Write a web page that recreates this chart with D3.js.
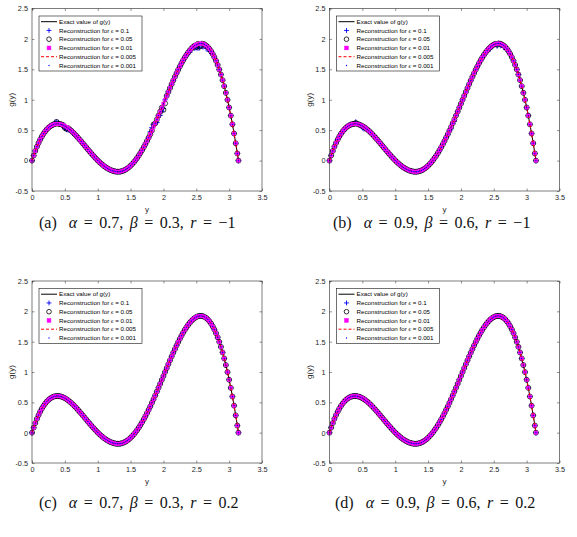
<!DOCTYPE html>
<html><head><meta charset="utf-8">
<script src="https://cdn.jsdelivr.net/npm/d3@7"></script>
<style>body{margin:0;background:#fff}svg{display:block}</style></head>
<body><svg id="chart" width="577" height="537"></svg>
<script>
// ---------------- data ----------------
const yGrid = [0,0.025,0.05,0.075,0.1,0.125,0.15,0.175,0.2,0.225,0.25,0.275,0.3,0.325,0.35,0.375,0.4,0.425,0.45,0.475,
  0.5,0.525,0.55,0.575,0.6,0.625,0.65,0.675,0.7,0.725,0.75,0.775,0.8,0.825,0.85,0.875,0.9,0.925,0.95,0.975,
  1.0,1.025,1.05,1.075,1.1,1.125,1.15,1.175,1.2,1.225,1.25,1.275,1.3,1.325,1.35,1.375,1.4,1.425,1.45,1.475,
  1.5,1.525,1.55,1.575,1.6,1.625,1.65,1.675,1.7,1.725,1.75,1.775,1.8,1.825,1.85,1.875,1.9,1.925,1.95,1.975,
  2.0,2.025,2.05,2.075,2.1,2.125,2.15,2.175,2.2,2.225,2.25,2.275,2.3,2.325,2.35,2.375,2.4,2.425,2.45,2.475,
  2.5,2.525,2.55,2.575,2.6,2.625,2.65,2.675,2.7,2.725,2.75,2.775,2.8,2.825,2.85,2.875,2.9,2.925,2.95,2.975,
  3.0,3.025,3.05,3.075,3.1,3.125,3.1416];
const gExact = [0,0.083,0.158,0.228,0.290,0.346,0.397,0.441,0.479,0.512,0.539,0.562,0.579,0.592,0.600,0.604,0.604,0.600,0.593,0.582,
  0.569,0.552,0.533,0.511,0.488,0.462,0.435,0.406,0.376,0.345,0.314,0.282,0.249,0.217,0.184,0.152,0.121,0.090,0.060,0.031,
  0.003,-0.024,-0.048,-0.071,-0.093,-0.112,-0.129,-0.144,-0.157,-0.167,-0.175,-0.181,-0.183,-0.183,-0.179,-0.172,-0.161,-0.147,-0.130,-0.109,
  -0.085,-0.057,-0.027,0.007,0.044,0.083,0.126,0.171,0.219,0.269,0.322,0.377,0.433,0.492,0.552,0.613,0.676,0.740,0.804,0.869,
  0.934,1.000,1.064,1.129,1.193,1.256,1.318,1.378,1.437,1.493,1.547,1.599,1.648,1.694,1.736,1.775,1.810,1.841,1.868,1.889,
  1.906,1.918,1.924,1.925,1.920,1.908,1.891,1.867,1.835,1.798,1.752,1.700,1.640,1.572,1.497,1.414,1.322,1.223,1.114,0.998,
  0.872,0.739,0.596,0.445,0.285,0.117,0];

const epsLabels = ["0.1","0.05","0.01","0.005","0.001"];
const xTicks = [0,0.5,1,1.5,2,2.5,3,3.5];
const xTickLabels = ["0","0.5","1","1.5","2","2.5","3","3.5"];
const yTicks = [-0.5,0,0.5,1,1.5,2,2.5];
const yTickLabels = ["-0.5","0","0.5","1","1.5","2","2.5"];

const panelIds = ["a","b","c","d"];
const alphaVals = ["0.7","0.9","0.7","0.9"];
const betaVals = ["0.3","0.6","0.3","0.6"];
const rVals = ["\u22121","\u22121","0.2","0.2"];

// deviations of the noisy reconstructions from g, as [y, delta]
const devA01 = [[0.35,0.03],[0.375,0.03],[0.4,0.02],[0.5,-0.04],[0.525,-0.04],[0.55,-0.03],[0.65,-0.02],[1.8,0.04],[1.825,0.05],[1.85,0.04],
  [1.9,-0.05],[1.95,-0.06],[1.975,-0.06],[2.0,-0.08],[2.4,-0.03],[2.475,-0.04],[2.5,-0.05],[2.525,-0.07],[2.55,-0.07],[2.6,-0.05],[2.65,-0.05],[2.7,-0.04]];
const devA005 = [[0.375,0.03],[0.5,-0.03],[0.525,-0.03],[1.85,0.04],[2.0,-0.10],[2.025,-0.06],[2.5,-0.04],[2.55,-0.05],[2.575,-0.04]];
const devB01 = [[0.4,0.03],[0.5,-0.03],[0.525,-0.03],[1.85,-0.03],[1.9,-0.03],[2.45,-0.03],[2.55,-0.04],[2.6,-0.03],[2.65,-0.03]];
const devB005 = [[0.4,0.015],[2.55,-0.02]];
const devC01 = [];
const devC005 = [];
const devD01 = [];
const devD005 = [];

// ---------------- layout ----------------
const layout = [
  {l:32,   r:262,   t:8.5,  b:191, capX:39,  capY:227.5},
  {l:329.5,r:559.5, t:8.5,  b:191, capX:333, capY:227.5},
  {l:32,   r:262,   t:281,  b:463, capX:39,  capY:507.5},
  {l:329.5,r:559.5, t:281,  b:463, capX:335, capY:507.5}
];
const devs = [[devA01,devA005],[devB01,devB005],[devC01,devC005],[devD01,devD005]];

const svg = d3.select("#chart");
const AX = "#262626";
const SANS = "'Liberation Sans',Arial,sans-serif";

function withDev(dev){
  const m = new Map(dev.map(([yy,dv]) => [d3.minIndex(yGrid, v => Math.abs(v-yy)), dv]));
  return gExact.map((v,i)=> v + (m.get(i)||0));
}

const plusPath = (cx,cy,a) => `M${cx-a},${cy}H${cx+a}M${cx},${cy-a}V${cy+a}`;

panelIds.forEach((pid, p) => {
  const L = layout[p];
  const x = d3.scaleLinear().domain([0,3.5]).range([L.l, L.r]);
  const y = d3.scaleLinear().domain([-0.5,2.5]).range([L.b, L.t]);
  const g = svg.append("g");

  const series = [withDev(devs[p][0]), withDev(devs[p][1]), gExact, gExact, gExact];
  const pts = s => s.map((v,i)=>[yGrid[i], v]);
  const line = d3.line().x(d=>x(d[0])).y(d=>y(d[1]));

  // exact
  g.append("path").attr("d", line(pts(gExact))).attr("fill","none")
    .attr("stroke","#000").attr("stroke-width",1);
  // eps 0.1 : blue +
  g.append("g").selectAll("path").data(pts(series[0])).join("path")
    .attr("d", d=>plusPath(x(d[0]),y(d[1]),2.7))
    .attr("stroke","#0000ff").attr("stroke-width",0.9);
  // eps 0.05 : black o
  g.append("g").selectAll("circle").data(pts(series[1])).join("circle")
    .attr("cx",d=>x(d[0])).attr("cy",d=>y(d[1])).attr("r",2.5)
    .attr("fill","none").attr("stroke","#000").attr("stroke-width",0.75);
  // eps 0.01 : magenta squares
  g.append("g").selectAll("rect").data(pts(series[2])).join("rect")
    .attr("x",d=>x(d[0])-1.6).attr("y",d=>y(d[1])-1.6).attr("width",3.2).attr("height",3.2)
    .attr("fill","#ff00ff").attr("stroke","#ff00ff").attr("stroke-width",0.5);
  // eps 0.005 : red dashed
  g.append("path").attr("d", line(pts(series[3]))).attr("fill","none")
    .attr("stroke","#ff0000").attr("stroke-width",1).attr("stroke-dasharray","3,2");
  // eps 0.001 : blue dots
  g.append("g").selectAll("circle").data(pts(series[4])).join("circle")
    .attr("cx",d=>x(d[0])).attr("cy",d=>y(d[1])).attr("r",0.7).attr("fill","#0000ff");

  // axes
  const fx = (d,i)=>xTickLabels[i], fy=(d,i)=>yTickLabels[i];
  const style = sel => { sel.select(".domain").remove();
    sel.selectAll("line").attr("stroke",AX).attr("stroke-width",0.5);
    sel.selectAll("text").attr("fill",AX).style("font-family",SANS).style("font-size","7.3px"); };
  svg.append("g").attr("transform",`translate(0,${L.b})`)
    .call(d3.axisBottom(x).tickValues(xTicks).tickFormat(fx).tickSize(-2.5).tickPadding(4)).call(style);
  svg.append("g").attr("transform",`translate(0,${L.t})`)
    .call(d3.axisTop(x).tickValues(xTicks).tickFormat("").tickSize(-2.5)).call(style);
  svg.append("g").attr("transform",`translate(${L.l},0)`)
    .call(d3.axisLeft(y).tickValues(yTicks).tickFormat(fy).tickSize(-2.5).tickPadding(4)).call(style);
  svg.append("g").attr("transform",`translate(${L.r},0)`)
    .call(d3.axisRight(y).tickValues(yTicks).tickFormat("").tickSize(-2.5)).call(style);
  svg.append("rect").attr("x",L.l).attr("y",L.t).attr("width",L.r-L.l).attr("height",L.b-L.t)
    .attr("fill","none").attr("stroke",AX).attr("stroke-width",0.6);

  // axis labels
  svg.append("text").attr("x",(L.l+L.r)/2).attr("y",L.b+20.5).attr("text-anchor","middle")
    .style("font-family",SANS).style("font-size","8px").attr("fill",AX).text("y");
  svg.append("text").attr("transform",`translate(${L.l-18},${(L.t+L.b)/2}) rotate(-90)`).attr("text-anchor","middle")
    .style("font-family",SANS).style("font-size","8px").attr("fill",AX).text("g(y)");

  // legend
  const lg = svg.append("g").attr("transform",`translate(${L.l+7},${L.t+7.5})`);
  lg.append("rect").attr("width",103).attr("height",55).attr("fill","#fff").attr("stroke","#111").attr("stroke-width",0.6);
  const rowY = i => 5.7 + i*8.75;
  const labels = ["Exact value of g(y)"].concat(epsLabels.map(e=>"Reconstruction for "+e));
  labels.forEach((lab,i)=>{
    const cy = rowY(i), cx = 10;
    if(i===0) lg.append("line").attr("x1",2).attr("x2",18).attr("y1",cy).attr("y2",cy).attr("stroke","#000").attr("stroke-width",1);
    if(i===1) lg.append("path").attr("d",plusPath(cx,cy,2.4)).attr("stroke","#0000ff").attr("stroke-width",0.9);
    if(i===2) lg.append("circle").attr("cx",cx).attr("cy",cy).attr("r",2.3).attr("fill","none").attr("stroke","#000").attr("stroke-width",0.8);
    if(i===3) lg.append("rect").attr("x",cx-1.9).attr("y",cy-1.9).attr("width",3.8).attr("height",3.8).attr("fill","#ff00ff").attr("stroke","#ff00ff").attr("stroke-width",0.5);
    if(i===4) lg.append("line").attr("x1",2).attr("x2",18).attr("y1",cy).attr("y2",cy).attr("stroke","#ff0000").attr("stroke-width",1).attr("stroke-dasharray","3,2");
    if(i===5) lg.append("circle").attr("cx",cx).attr("cy",cy).attr("r",0.7).attr("fill","#0000ff");
    const t = lg.append("text").attr("x",20).attr("y",cy+2.1).attr("fill","#000")
      .style("font-family",SANS).style("font-size","6.2px");
    if(i===0) t.text(lab);
    else {
      t.append("tspan").text("Reconstruction for ");
      t.append("tspan").style("font-style","italic").style("font-family","'Liberation Serif',serif").text("\u03f5");
      t.append("tspan").text(" = " + epsLabels[i-1]);
    }
  });

  // caption
  const cap = svg.append("text").attr("x",L.capX).attr("y",L.capY).attr("fill","#111")
    .style("font-family","'Liberation Serif','DejaVu Serif',serif").style("font-size","16px")
    .style("word-spacing","2.5px");
  cap.append("tspan").text("(" + pid + ")");
  cap.append("tspan").attr("dx",12).style("font-style","italic").text("\u03b1");
  cap.append("tspan").text(" = " + alphaVals[p] + ", ");
  cap.append("tspan").style("font-style","italic").text("\u03b2");
  cap.append("tspan").text(" = " + betaVals[p] + ", ");
  cap.append("tspan").style("font-style","italic").text("r");
  cap.append("tspan").text(" = " + rVals[p]);
});
</script></body></html>
